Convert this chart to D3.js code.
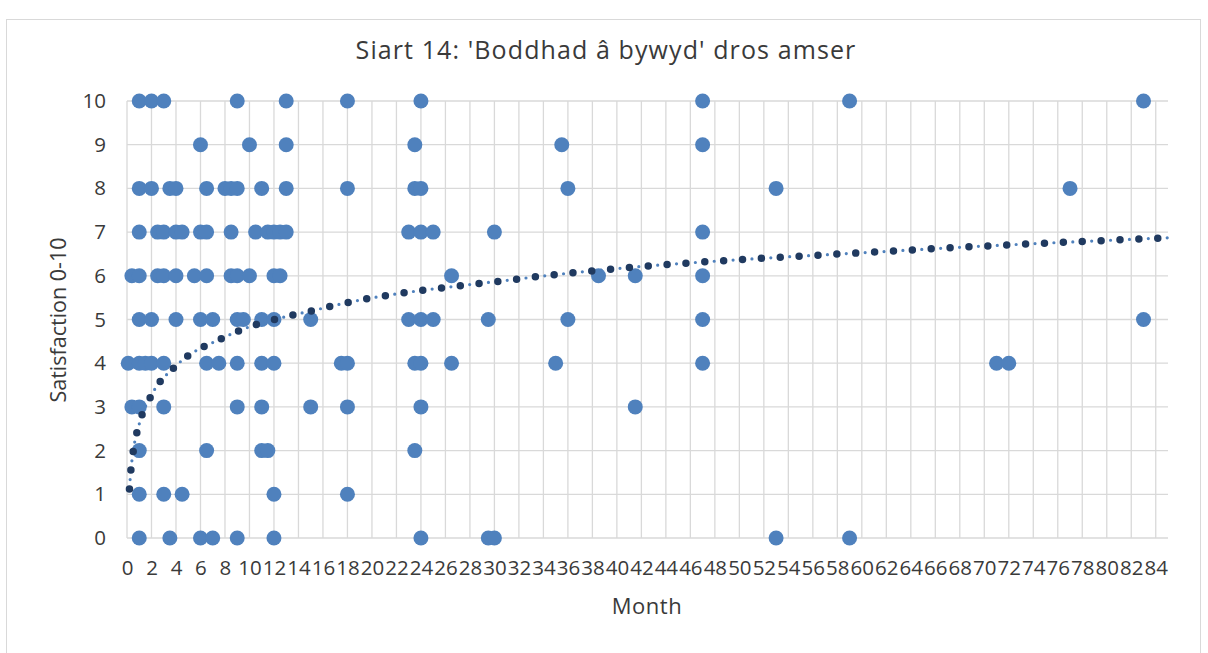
<!DOCTYPE html>
<html>
<head>
<meta charset="utf-8">
<script src="https://cdn.jsdelivr.net/npm/d3@7"></script>
<style>
  body { margin: 0; background: #fff; }
  text { font-family: "Open Sans", "Noto Sans", sans-serif; fill: #3a3a3a; }
</style>
</head>
<body>
<svg id="chart" width="1208" height="653"></svg>
<script>
// Satisfaction levels (rows) and the months at which a point sits on each row
const levels = [10, 9, 8, 7, 6, 5, 4, 3, 2, 1, 0];
const monthsByLevel = [
  [1, 2, 3, 9, 13, 18, 24, 47, 59, 83],
  [6, 10, 13, 23.5, 35.5, 47],
  [1, 2, 3.5, 4, 6.5, 8, 8.5, 9, 11, 13, 18, 23.5, 24, 36, 53, 77],
  [1, 2.5, 3, 4, 4.5, 6, 6.5, 8.5, 10.5, 11.5, 12, 12.5, 13, 23, 24, 25, 30, 47],
  [0.4, 1, 2.5, 3, 4, 5.5, 6.5, 8.5, 9, 10, 12, 12.5, 26.5, 38.5, 41.5, 47],
  [1, 2, 4, 6, 7, 9, 9.5, 11, 12, 15, 23, 24, 25, 29.5, 36, 47, 83],
  [0.1, 1, 1.5, 2, 3, 6.5, 7.5, 9, 11, 12, 17.5, 18, 23.5, 24, 26.5, 35, 47, 71, 72],
  [0.4, 1, 3, 9, 11, 15, 18, 24, 41.5],
  [1, 6.5, 11, 11.5, 23.5],
  [1, 3, 4.5, 12, 18],
  [1, 3.5, 6, 7, 9, 12, 24, 29.5, 30, 53, 59]
];

// Logarithmic trendline, values
const trendMonths = [0.2, 0.3, 0.5, 1, 2, 4, 8, 16, 32, 64, 85];
const trendValues = [1.12, 1.5, 1.97, 2.61, 3.27, 3.94, 4.6, 5.26, 5.93, 6.59, 6.87];

const xTicks = d3.range(0, 85, 2);
const yTicks = d3.range(0, 11, 1);

const points = [];
levels.forEach((lv, i) => monthsByLevel[i].forEach(m => points.push({ month: m, value: lv })));
const trend = trendMonths.map((m, i) => ({ month: m, value: trendValues[i] }));

const svg = d3.select("#chart");
const plot = { left: 127, right: 1168, top: 101, bottom: 538 };

const x = d3.scaleLinear().domain([0, 85]).range([plot.left, plot.right]);
const y = d3.scaleLinear().domain([0, 10]).range([plot.bottom, plot.top]);

// chart frame
svg.append("rect")
  .attr("x", 6.5).attr("y", 19.5)
  .attr("width", 1194).attr("height", 660)
  .attr("fill", "none").attr("stroke", "#d9d9d9");

// gridlines
svg.append("g")
  .selectAll("line.h")
  .data(yTicks)
  .join("line")
  .attr("x1", plot.left).attr("x2", plot.right)
  .attr("y1", d => y(d)).attr("y2", d => y(d))
  .attr("stroke", "#d9d9d9").attr("stroke-width", 1.3);

svg.append("g")
  .selectAll("line.v")
  .data(xTicks)
  .join("line")
  .attr("x1", d => x(d)).attr("x2", d => x(d))
  .attr("y1", plot.top).attr("y2", plot.bottom)
  .attr("stroke", "#d9d9d9").attr("stroke-width", 1.3);

// axes (labels only)
const xAxis = svg.append("g")
  .attr("transform", `translate(0, ${plot.bottom})`)
  .call(d3.axisBottom(x).tickValues(xTicks).tickSize(0).tickPadding(22));
xAxis.select(".domain").remove();

const yAxis = svg.append("g")
  .attr("transform", `translate(${plot.left}, 0)`)
  .call(d3.axisLeft(y).tickValues(yTicks).tickSize(0).tickPadding(21));
yAxis.select(".domain").remove();

svg.selectAll(".tick text")
  .style("font-family", "'Open Sans', sans-serif")
  .style("font-size", "20.5px")
  .attr("fill", "#3a3a3a");

// scatter points
svg.append("g")
  .selectAll("circle")
  .data(points)
  .join("circle")
  .attr("cx", d => x(d.month))
  .attr("cy", d => y(d.value))
  .attr("r", 7.5)
  .attr("fill", "#4f81bd");

// trendline: thin blue dots under larger navy dots
const line = d3.line()
  .x(d => x(d.month))
  .y(d => y(d.value))
  .curve(d3.curveMonotoneX);

svg.append("path")
  .attr("d", line(trend))
  .attr("fill", "none")
  .attr("stroke", "#4f81bd")
  .attr("stroke-width", 3.2)
  .attr("stroke-linecap", "round")
  .attr("stroke-dasharray", "0 9.45");

svg.append("path")
  .attr("d", line(trend))
  .attr("fill", "none")
  .attr("stroke", "#203a60")
  .attr("stroke-width", 7.5)
  .attr("stroke-linecap", "round")
  .attr("stroke-dasharray", "0 18.9");

// titles
svg.append("text")
  .attr("x", 606)
  .attr("y", 59)
  .attr("text-anchor", "middle")
  .style("font-size", "25px")
  .style("letter-spacing", "1.1px")
  .text("Siart 14: 'Boddhad â bywyd' dros amser");

svg.append("text")
  .attr("x", 647)
  .attr("y", 614)
  .attr("text-anchor", "middle")
  .style("font-size", "22px")
  .style("letter-spacing", "0.5px")
  .text("Month");

svg.append("text")
  .attr("transform", "translate(66, 320) rotate(-90)")
  .attr("text-anchor", "middle")
  .style("font-size", "21.5px")
  .text("Satisfaction 0-10");
</script>
</body>
</html>
